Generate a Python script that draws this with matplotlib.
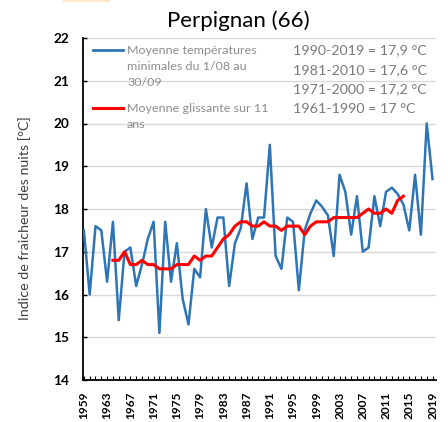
import matplotlib
matplotlib.use("Agg")
import matplotlib.pyplot as plt
from matplotlib.lines import Line2D
from matplotlib.patches import Rectangle

plt.rcParams['font.family'] = ['Lato', 'DejaVu Sans']

years = list(range(1959, 2020))
tmin = [17.5, 16.0, 17.6, 17.5, 16.3, 17.7, 15.4, 17.0, 17.1, 16.2,
        16.7, 17.3, 17.7, 15.1, 17.7, 16.3, 17.2, 15.9, 15.3, 16.6,
        16.4, 18.0, 17.1, 17.8, 17.8, 16.2, 17.2, 17.55, 18.6, 17.3,
        17.8, 17.8, 19.5, 16.9, 16.6, 17.8, 17.7, 16.1, 17.5, 17.9,
        18.2, 18.05, 17.85, 16.9, 18.8, 18.4, 17.4, 18.3, 17.0, 17.1,
        18.3, 17.6, 18.4, 18.5, 18.35, 18.1, 17.5, 18.8, 17.4, 20.0, 18.7]
ma_years = list(range(1964, 2015))
ma = [16.8, 16.8, 17.0, 16.7, 16.7, 16.8, 16.7, 16.7, 16.6, 16.6,
      16.6, 16.7, 16.7, 16.7, 16.9, 16.8, 16.9, 16.9, 17.1, 17.3,
      17.4, 17.6, 17.7, 17.7, 17.6, 17.6, 17.7, 17.6, 17.6, 17.5,
      17.6, 17.6, 17.6, 17.4, 17.6, 17.7, 17.7, 17.7, 17.8, 17.8,
      17.8, 17.8, 17.8, 17.9, 18.0, 17.9, 17.9, 18.0, 17.9, 18.2, 18.3]
label_years = list(range(1959, 2020, 4))
yticks = list(range(14, 23))
stats = ["1990-2019 = 17,9 °C", "1981-2010 = 17,6 °C",
         "1971-2000 = 17,2 °C", "1961-1990 = 17 °C"]
title = "Perpignan (66)"
ylabel = "Indice de fraicheur des nuits [°C]"
leg_blue = ["Moyenne températures", "minimales du 1/08 au", "30/09"]
leg_red = ["Moyenne glissante sur 11", "ans"]

W, H = 448, 422
fig = plt.figure(figsize=(W / 100, H / 100), dpi=100)
ax = fig.add_axes([83 / W, 1 - 380 / H, (436 - 83) / W, (380 - 38) / H])

blue = '#2E75B6'
red = '#FF0000'
ax.plot(years, tmin, color=blue, lw=1.8, zorder=3)
ax.plot(ma_years, ma, color=red, lw=2.2, zorder=4)

ax.set_xlim(1958.85, 2019.6)
ax.set_ylim(14, 22)
ax.set_yticks(yticks)
ax.set_yticklabels([str(v) for v in yticks], fontweight='bold', fontsize=9.8)
ax.set_xticks(years)
ax.set_xticklabels([str(y) if y in label_years else '' for y in years],
                   rotation=90, fontweight='bold', fontsize=8.6)
ax.tick_params(axis='x', direction='in', length=3, width=0.8, pad=8.5, color='black')
ax.tick_params(axis='y', direction='in', length=3, width=1.0, pad=10, color='black')
ax.grid(axis='y', color='#d9d9d9', lw=1.0)
ax.set_axisbelow(True)
for s in ['top', 'right']:
    ax.spines[s].set_visible(False)
ax.spines['left'].set_linewidth(1.3)
ax.spines['bottom'].set_linewidth(1.3)

t_title = fig.text(238.5 / W, 1 - 21 / H, title, ha='center', va='center', fontsize=12)
t_ylab = fig.text(25 / W, 1 - 218 / H, ylabel, rotation=90, ha='center', va='center',
                  fontsize=7.5, color='#404040')

lc = '#8c8c8c'
fig.add_artist(Line2D([93 / W, 123 / W], [1 - 50 / H, 1 - 50 / H], color=blue, lw=2.0))
fig.add_artist(Line2D([93 / W, 123 / W], [1 - 108 / H, 1 - 108 / H], color=red, lw=2.2))
leg_texts = []
for i, t in enumerate(leg_blue):
    leg_texts.append(fig.text(127 / W, 1 - (50 + 16.5 * i) / H, t, ha='left', va='center',
                              fontsize=7.5, color=lc))
for i, t in enumerate(leg_red):
    leg_texts.append(fig.text(127 / W, 1 - (108 + 16.5 * i) / H, t, ha='left', va='center',
                              fontsize=7.5, color=lc))
stat_texts = []
for i, t in enumerate(stats):
    stat_texts.append(fig.text(293 / W, 1 - (50 + 19.7 * i) / H, t, ha='left', va='center',
                               fontsize=9, color='#7a7a7a'))

fig.add_artist(Rectangle((63 / W, 1 - 2 / H), 47 / W, 2 / H, transform=fig.transFigure,
                         color='#FDE9C9', lw=0))

# scale font sizes so that text extents match the reference
fig.canvas.draw()
r = fig.canvas.get_renderer()


def fit(texts, ref, target, dim='w'):
    bb = ref.get_window_extent(r)
    cur = bb.width if dim == 'w' else bb.height
    k = target / cur
    for t in texts:
        t.set_fontsize(t.get_fontsize() * k)


fit([t_title], t_title, 141)
fit([t_ylab], t_ylab, 203, 'h')
fit(leg_texts, leg_texts[0], 128)
fit(stat_texts, stat_texts[0], 134)

fig.savefig('out.png', dpi=100)
